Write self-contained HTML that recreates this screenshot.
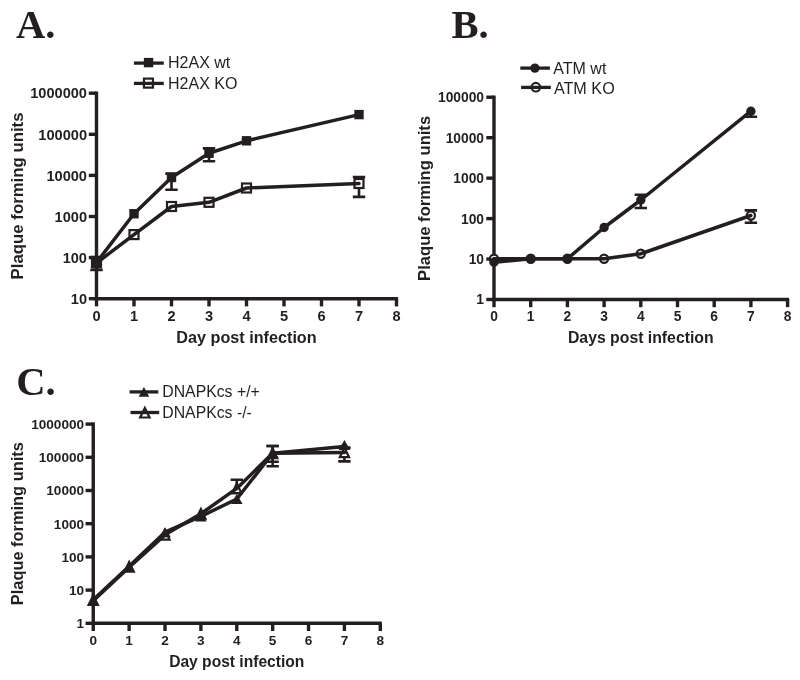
<!DOCTYPE html>
<html lang="en"><head><meta charset="utf-8"><title>Plaque forming units time courses</title>
<style>html,body{margin:0;padding:0;background:#fff}svg{display:block;will-change:transform}</style></head><body>
<svg width="800" height="680" viewBox="0 0 800 680">
<rect width="800" height="680" fill="#fff"/>
<text x="16" y="37.8" font-family="'Liberation Serif', serif" font-weight="700" font-size="40.6" fill="#231f20">A.</text>
<path d="M96.5 91.5V300.4" stroke="#231f20" stroke-width="3.4" fill="none"/>
<path d="M94.8 298.7H398" stroke="#231f20" stroke-width="3.4" fill="none"/>
<path d="M88.8 298.7H96.5" stroke="#231f20" stroke-width="3.4"/>
<text x="87" y="303.93" text-anchor="end" font-family="'Liberation Sans', sans-serif" font-weight="700" font-size="14.6" fill="#231f20">10</text>
<path d="M88.8 257.6H96.5" stroke="#231f20" stroke-width="3.4"/>
<text x="87" y="262.83" text-anchor="end" font-family="'Liberation Sans', sans-serif" font-weight="700" font-size="14.6" fill="#231f20">100</text>
<path d="M88.8 216.5H96.5" stroke="#231f20" stroke-width="3.4"/>
<text x="87" y="221.73" text-anchor="end" font-family="'Liberation Sans', sans-serif" font-weight="700" font-size="14.6" fill="#231f20">1000</text>
<path d="M88.8 175.4H96.5" stroke="#231f20" stroke-width="3.4"/>
<text x="87" y="180.63" text-anchor="end" font-family="'Liberation Sans', sans-serif" font-weight="700" font-size="14.6" fill="#231f20">10000</text>
<path d="M88.8 134.3H96.5" stroke="#231f20" stroke-width="3.4"/>
<text x="87" y="139.53" text-anchor="end" font-family="'Liberation Sans', sans-serif" font-weight="700" font-size="14.6" fill="#231f20">100000</text>
<path d="M88.8 93.2H96.5" stroke="#231f20" stroke-width="3.4"/>
<text x="87" y="98.43" text-anchor="end" font-family="'Liberation Sans', sans-serif" font-weight="700" font-size="14.6" fill="#231f20">1000000</text>
<path d="M96.5 298.7V306.4" stroke="#231f20" stroke-width="3.4"/>
<text x="96.5" y="321.2" text-anchor="middle" font-family="'Liberation Sans', sans-serif" font-weight="700" font-size="14.6" fill="#231f20">0</text>
<path d="M134 298.7V306.4" stroke="#231f20" stroke-width="3.4"/>
<text x="134" y="321.2" text-anchor="middle" font-family="'Liberation Sans', sans-serif" font-weight="700" font-size="14.6" fill="#231f20">1</text>
<path d="M171.5 298.7V306.4" stroke="#231f20" stroke-width="3.4"/>
<text x="171.5" y="321.2" text-anchor="middle" font-family="'Liberation Sans', sans-serif" font-weight="700" font-size="14.6" fill="#231f20">2</text>
<path d="M209 298.7V306.4" stroke="#231f20" stroke-width="3.4"/>
<text x="209" y="321.2" text-anchor="middle" font-family="'Liberation Sans', sans-serif" font-weight="700" font-size="14.6" fill="#231f20">3</text>
<path d="M246.5 298.7V306.4" stroke="#231f20" stroke-width="3.4"/>
<text x="246.5" y="321.2" text-anchor="middle" font-family="'Liberation Sans', sans-serif" font-weight="700" font-size="14.6" fill="#231f20">4</text>
<path d="M284 298.7V306.4" stroke="#231f20" stroke-width="3.4"/>
<text x="284" y="321.2" text-anchor="middle" font-family="'Liberation Sans', sans-serif" font-weight="700" font-size="14.6" fill="#231f20">5</text>
<path d="M321.5 298.7V306.4" stroke="#231f20" stroke-width="3.4"/>
<text x="321.5" y="321.2" text-anchor="middle" font-family="'Liberation Sans', sans-serif" font-weight="700" font-size="14.6" fill="#231f20">6</text>
<path d="M359 298.7V306.4" stroke="#231f20" stroke-width="3.4"/>
<text x="359" y="321.2" text-anchor="middle" font-family="'Liberation Sans', sans-serif" font-weight="700" font-size="14.6" fill="#231f20">7</text>
<path d="M396.5 298.7V306.4" stroke="#231f20" stroke-width="3.4"/>
<text x="396.5" y="321.2" text-anchor="middle" font-family="'Liberation Sans', sans-serif" font-weight="700" font-size="14.6" fill="#231f20">8</text>
<text x="246.5" y="343.3" text-anchor="middle" font-family="'Liberation Sans', sans-serif" font-weight="700" font-size="16.2" fill="#231f20">Day post infection</text>
<text transform="translate(23.3 195.95) rotate(-90)" text-anchor="middle" font-family="'Liberation Sans', sans-serif" font-weight="700" font-size="16.8" fill="#231f20">Plaque forming units</text>
<path d="M96.5 257V270M90.3 257H102.7M90.3 270H102.7" stroke="#231f20" stroke-width="2.6" fill="none"/>
<path d="M359 177V196.9M352.8 177H365.2M352.8 196.9H365.2" stroke="#231f20" stroke-width="2.6" fill="none"/>
<rect x="92" y="258.5" width="9" height="9" fill="#fff" stroke="#231f20" stroke-width="2.2"/>
<rect x="129.5" y="230.1" width="9" height="9" fill="#fff" stroke="#231f20" stroke-width="2.2"/>
<rect x="167" y="202" width="9" height="9" fill="#fff" stroke="#231f20" stroke-width="2.2"/>
<rect x="204.5" y="197.8" width="9" height="9" fill="#fff" stroke="#231f20" stroke-width="2.2"/>
<rect x="242" y="183.5" width="9" height="9" fill="#fff" stroke="#231f20" stroke-width="2.2"/>
<rect x="354.5" y="179" width="9" height="9" fill="#fff" stroke="#231f20" stroke-width="2.2"/>
<path d="M96.5 263L134 234.6L171.5 206.5L209 202.3L246.5 188L359 183.5" stroke="#231f20" stroke-width="3.5" fill="none" stroke-linejoin="round" stroke-linecap="round"/>
<path d="M171.5 173.6V189.8M165.3 173.6H177.7M165.3 189.8H177.7" stroke="#231f20" stroke-width="2.6" fill="none"/>
<path d="M209 148.4V161.3M202.8 148.4H215.2M202.8 161.3H215.2" stroke="#231f20" stroke-width="2.6" fill="none"/>
<rect x="91.8" y="257.8" width="9.4" height="9.4" fill="#231f20"/>
<rect x="129.3" y="209.05" width="9.4" height="9.4" fill="#231f20"/>
<rect x="166.8" y="172.8" width="9.4" height="9.4" fill="#231f20"/>
<rect x="204.3" y="148.55" width="9.4" height="9.4" fill="#231f20"/>
<rect x="241.8" y="136.1" width="9.4" height="9.4" fill="#231f20"/>
<rect x="354.3" y="109.9" width="9.4" height="9.4" fill="#231f20"/>
<path d="M96.5 262.5L134 213.75L171.5 177.5L209 153.25L246.5 140.8L359 114.6" stroke="#231f20" stroke-width="3.5" fill="none" stroke-linejoin="round" stroke-linecap="round"/>
<rect x="143.85" y="57.9" width="9.4" height="9.4" fill="#231f20"/>
<path d="M133.9 63.1H163.8" stroke="#231f20" stroke-width="3.3"/>
<text x="168" y="68.3" font-family="'Liberation Sans', sans-serif" font-size="16" fill="#231f20">H2AX wt</text>
<rect x="143.95" y="78.6" width="9" height="9" fill="#fff" stroke="#231f20" stroke-width="2.2"/>
<path d="M133.9 83.4H163.8" stroke="#231f20" stroke-width="3.3"/>
<text x="168" y="88.6" font-family="'Liberation Sans', sans-serif" font-size="16" fill="#231f20">H2AX KO</text>
<text x="451.5" y="37.6" font-family="'Liberation Serif', serif" font-weight="700" font-size="40.6" fill="#231f20">B.</text>
<path d="M494 95.55V301.2" stroke="#231f20" stroke-width="3.4" fill="none"/>
<path d="M492.3 299.5H789.1" stroke="#231f20" stroke-width="3.4" fill="none"/>
<path d="M486.3 299.5H494" stroke="#231f20" stroke-width="3.4"/>
<text x="484" y="304.44" text-anchor="end" font-family="'Liberation Sans', sans-serif" font-weight="700" font-size="13.8" fill="#231f20">1</text>
<path d="M486.3 259.05H494" stroke="#231f20" stroke-width="3.4"/>
<text x="484" y="263.99" text-anchor="end" font-family="'Liberation Sans', sans-serif" font-weight="700" font-size="13.8" fill="#231f20">10</text>
<path d="M486.3 218.6H494" stroke="#231f20" stroke-width="3.4"/>
<text x="484" y="223.54" text-anchor="end" font-family="'Liberation Sans', sans-serif" font-weight="700" font-size="13.8" fill="#231f20">100</text>
<path d="M486.3 178.15H494" stroke="#231f20" stroke-width="3.4"/>
<text x="484" y="183.09" text-anchor="end" font-family="'Liberation Sans', sans-serif" font-weight="700" font-size="13.8" fill="#231f20">1000</text>
<path d="M486.3 137.7H494" stroke="#231f20" stroke-width="3.4"/>
<text x="484" y="142.64" text-anchor="end" font-family="'Liberation Sans', sans-serif" font-weight="700" font-size="13.8" fill="#231f20">10000</text>
<path d="M486.3 97.25H494" stroke="#231f20" stroke-width="3.4"/>
<text x="484" y="102.19" text-anchor="end" font-family="'Liberation Sans', sans-serif" font-weight="700" font-size="13.8" fill="#231f20">100000</text>
<path d="M494 299.5V307.2" stroke="#231f20" stroke-width="3.4"/>
<text x="494" y="321.2" text-anchor="middle" font-family="'Liberation Sans', sans-serif" font-weight="700" font-size="13.8" fill="#231f20">0</text>
<path d="M530.7 299.5V307.2" stroke="#231f20" stroke-width="3.4"/>
<text x="530.7" y="321.2" text-anchor="middle" font-family="'Liberation Sans', sans-serif" font-weight="700" font-size="13.8" fill="#231f20">1</text>
<path d="M567.4 299.5V307.2" stroke="#231f20" stroke-width="3.4"/>
<text x="567.4" y="321.2" text-anchor="middle" font-family="'Liberation Sans', sans-serif" font-weight="700" font-size="13.8" fill="#231f20">2</text>
<path d="M604.1 299.5V307.2" stroke="#231f20" stroke-width="3.4"/>
<text x="604.1" y="321.2" text-anchor="middle" font-family="'Liberation Sans', sans-serif" font-weight="700" font-size="13.8" fill="#231f20">3</text>
<path d="M640.8 299.5V307.2" stroke="#231f20" stroke-width="3.4"/>
<text x="640.8" y="321.2" text-anchor="middle" font-family="'Liberation Sans', sans-serif" font-weight="700" font-size="13.8" fill="#231f20">4</text>
<path d="M677.5 299.5V307.2" stroke="#231f20" stroke-width="3.4"/>
<text x="677.5" y="321.2" text-anchor="middle" font-family="'Liberation Sans', sans-serif" font-weight="700" font-size="13.8" fill="#231f20">5</text>
<path d="M714.2 299.5V307.2" stroke="#231f20" stroke-width="3.4"/>
<text x="714.2" y="321.2" text-anchor="middle" font-family="'Liberation Sans', sans-serif" font-weight="700" font-size="13.8" fill="#231f20">6</text>
<path d="M750.9 299.5V307.2" stroke="#231f20" stroke-width="3.4"/>
<text x="750.9" y="321.2" text-anchor="middle" font-family="'Liberation Sans', sans-serif" font-weight="700" font-size="13.8" fill="#231f20">7</text>
<path d="M787.6 299.5V307.2" stroke="#231f20" stroke-width="3.4"/>
<text x="787.6" y="321.2" text-anchor="middle" font-family="'Liberation Sans', sans-serif" font-weight="700" font-size="13.8" fill="#231f20">8</text>
<text x="640.8" y="343.3" text-anchor="middle" font-family="'Liberation Sans', sans-serif" font-weight="700" font-size="15.8" fill="#231f20">Days post infection</text>
<text transform="translate(429.8 198.38) rotate(-90)" text-anchor="middle" font-family="'Liberation Sans', sans-serif" font-weight="700" font-size="16.6" fill="#231f20">Plaque forming units</text>
<path d="M750.9 210.4V222.7M744.7 210.4H757.1M744.7 222.7H757.1" stroke="#231f20" stroke-width="2.6" fill="none"/>
<circle cx="494" cy="258.75" r="4.1" fill="#fff" stroke="#231f20" stroke-width="2.2"/>
<circle cx="530.7" cy="258.75" r="4.1" fill="#fff" stroke="#231f20" stroke-width="2.2"/>
<circle cx="567.4" cy="258.75" r="4.1" fill="#fff" stroke="#231f20" stroke-width="2.2"/>
<circle cx="604.1" cy="258.75" r="4.1" fill="#fff" stroke="#231f20" stroke-width="2.2"/>
<circle cx="640.8" cy="253.75" r="4.1" fill="#fff" stroke="#231f20" stroke-width="2.2"/>
<circle cx="750.9" cy="215.5" r="4.1" fill="#fff" stroke="#231f20" stroke-width="2.2"/>
<path d="M494 258.75L530.7 258.75L567.4 258.75L604.1 258.75L640.8 253.75L750.9 215.5" stroke="#231f20" stroke-width="3.5" fill="none" stroke-linejoin="round" stroke-linecap="round"/>
<path d="M640.8 194.7V208M634.6 194.7H647M634.6 208H647" stroke="#231f20" stroke-width="2.6" fill="none"/>
<path d="M750.9 111.2V116.8M744.7 116.8H757.1" stroke="#231f20" stroke-width="2.6" fill="none"/>
<circle cx="494" cy="262.2" r="4.7" fill="#231f20"/>
<circle cx="530.7" cy="258.75" r="4.7" fill="#231f20"/>
<circle cx="567.4" cy="258.75" r="4.7" fill="#231f20"/>
<circle cx="604.1" cy="227.5" r="4.7" fill="#231f20"/>
<circle cx="640.8" cy="200" r="4.7" fill="#231f20"/>
<circle cx="750.9" cy="111.2" r="4.7" fill="#231f20"/>
<path d="M494 262.2L530.7 258.75L567.4 258.75L604.1 227.5L640.8 200L750.9 111.2" stroke="#231f20" stroke-width="3.5" fill="none" stroke-linejoin="round" stroke-linecap="round"/>
<circle cx="534.9" cy="68.1" r="4.65" fill="#231f20"/>
<path d="M520.3 68.1H549.9" stroke="#231f20" stroke-width="3.3"/>
<text x="553.3" y="74.3" font-family="'Liberation Sans', sans-serif" font-size="16" fill="#231f20">ATM wt</text>
<circle cx="535.85" cy="87.2" r="4.3" fill="#fff" stroke="#231f20" stroke-width="2.2"/>
<path d="M521.1 87.4H550.8" stroke="#231f20" stroke-width="3.3"/>
<text x="553.9" y="93.5" font-family="'Liberation Sans', sans-serif" font-size="16.2" fill="#231f20">ATM KO</text>
<text x="16.3" y="394.7" font-family="'Liberation Serif', serif" font-weight="700" font-size="40.6" fill="#231f20">C.</text>
<path d="M93.25 422.4V625" stroke="#231f20" stroke-width="3.4" fill="none"/>
<path d="M91.55 623.3H381.79" stroke="#231f20" stroke-width="3.4" fill="none"/>
<path d="M85.55 623.3H93.25" stroke="#231f20" stroke-width="3.4"/>
<text x="84.1" y="628.17" text-anchor="end" font-family="'Liberation Sans', sans-serif" font-weight="700" font-size="13.6" fill="#231f20">1</text>
<path d="M85.55 590.1H93.25" stroke="#231f20" stroke-width="3.4"/>
<text x="84.1" y="594.97" text-anchor="end" font-family="'Liberation Sans', sans-serif" font-weight="700" font-size="13.6" fill="#231f20">10</text>
<path d="M85.55 556.9H93.25" stroke="#231f20" stroke-width="3.4"/>
<text x="84.1" y="561.77" text-anchor="end" font-family="'Liberation Sans', sans-serif" font-weight="700" font-size="13.6" fill="#231f20">100</text>
<path d="M85.55 523.7H93.25" stroke="#231f20" stroke-width="3.4"/>
<text x="84.1" y="528.57" text-anchor="end" font-family="'Liberation Sans', sans-serif" font-weight="700" font-size="13.6" fill="#231f20">1000</text>
<path d="M85.55 490.5H93.25" stroke="#231f20" stroke-width="3.4"/>
<text x="84.1" y="495.37" text-anchor="end" font-family="'Liberation Sans', sans-serif" font-weight="700" font-size="13.6" fill="#231f20">10000</text>
<path d="M85.55 457.3H93.25" stroke="#231f20" stroke-width="3.4"/>
<text x="84.1" y="462.17" text-anchor="end" font-family="'Liberation Sans', sans-serif" font-weight="700" font-size="13.6" fill="#231f20">100000</text>
<path d="M85.55 424.1H93.25" stroke="#231f20" stroke-width="3.4"/>
<text x="84.1" y="428.97" text-anchor="end" font-family="'Liberation Sans', sans-serif" font-weight="700" font-size="13.6" fill="#231f20">1000000</text>
<path d="M93.25 623.3V631" stroke="#231f20" stroke-width="3.4"/>
<text x="93.25" y="644.5" text-anchor="middle" font-family="'Liberation Sans', sans-serif" font-weight="700" font-size="13.6" fill="#231f20">0</text>
<path d="M129.13 623.3V631" stroke="#231f20" stroke-width="3.4"/>
<text x="129.13" y="644.5" text-anchor="middle" font-family="'Liberation Sans', sans-serif" font-weight="700" font-size="13.6" fill="#231f20">1</text>
<path d="M165.01 623.3V631" stroke="#231f20" stroke-width="3.4"/>
<text x="165.01" y="644.5" text-anchor="middle" font-family="'Liberation Sans', sans-serif" font-weight="700" font-size="13.6" fill="#231f20">2</text>
<path d="M200.89 623.3V631" stroke="#231f20" stroke-width="3.4"/>
<text x="200.89" y="644.5" text-anchor="middle" font-family="'Liberation Sans', sans-serif" font-weight="700" font-size="13.6" fill="#231f20">3</text>
<path d="M236.77 623.3V631" stroke="#231f20" stroke-width="3.4"/>
<text x="236.77" y="644.5" text-anchor="middle" font-family="'Liberation Sans', sans-serif" font-weight="700" font-size="13.6" fill="#231f20">4</text>
<path d="M272.65 623.3V631" stroke="#231f20" stroke-width="3.4"/>
<text x="272.65" y="644.5" text-anchor="middle" font-family="'Liberation Sans', sans-serif" font-weight="700" font-size="13.6" fill="#231f20">5</text>
<path d="M308.53 623.3V631" stroke="#231f20" stroke-width="3.4"/>
<text x="308.53" y="644.5" text-anchor="middle" font-family="'Liberation Sans', sans-serif" font-weight="700" font-size="13.6" fill="#231f20">6</text>
<path d="M344.41 623.3V631" stroke="#231f20" stroke-width="3.4"/>
<text x="344.41" y="644.5" text-anchor="middle" font-family="'Liberation Sans', sans-serif" font-weight="700" font-size="13.6" fill="#231f20">7</text>
<path d="M380.29 623.3V631" stroke="#231f20" stroke-width="3.4"/>
<text x="380.29" y="644.5" text-anchor="middle" font-family="'Liberation Sans', sans-serif" font-weight="700" font-size="13.6" fill="#231f20">8</text>
<text x="236.77" y="667.2" text-anchor="middle" font-family="'Liberation Sans', sans-serif" font-weight="700" font-size="15.6" fill="#231f20">Day post infection</text>
<text transform="translate(22.7 523.7) rotate(-90)" text-anchor="middle" font-family="'Liberation Sans', sans-serif" font-weight="700" font-size="16.4" fill="#231f20">Plaque forming units</text>
<path d="M236.77 479.8V493M230.57 479.8H242.97M230.57 493H242.97" stroke="#231f20" stroke-width="2.6" fill="none"/>
<path d="M272.65 446V466.25M266.45 446H278.85M266.45 466.25H278.85" stroke="#231f20" stroke-width="2.6" fill="none"/>
<path d="M344.41 447.6V461.4M338.21 447.6H350.61M338.21 461.4H350.61" stroke="#231f20" stroke-width="2.6" fill="none"/>
<path d="M93.25 595.4L97.85 605H88.65Z" fill="#fff" stroke="#231f20" stroke-width="2.2" stroke-linejoin="miter" stroke-miterlimit="6"/>
<path d="M129.13 561.95L133.73 571.55H124.53Z" fill="#fff" stroke="#231f20" stroke-width="2.2" stroke-linejoin="miter" stroke-miterlimit="6"/>
<path d="M165.01 530.05L169.61 539.65H160.41Z" fill="#fff" stroke="#231f20" stroke-width="2.2" stroke-linejoin="miter" stroke-miterlimit="6"/>
<path d="M200.89 508.95L205.49 518.55H196.29Z" fill="#fff" stroke="#231f20" stroke-width="2.2" stroke-linejoin="miter" stroke-miterlimit="6"/>
<path d="M236.77 483.6L241.37 493.2H232.17Z" fill="#fff" stroke="#231f20" stroke-width="2.2" stroke-linejoin="miter" stroke-miterlimit="6"/>
<path d="M272.65 448.5L277.25 458.1H268.05Z" fill="#fff" stroke="#231f20" stroke-width="2.2" stroke-linejoin="miter" stroke-miterlimit="6"/>
<path d="M344.41 447.6L349.01 457.2H339.81Z" fill="#fff" stroke="#231f20" stroke-width="2.2" stroke-linejoin="miter" stroke-miterlimit="6"/>
<path d="M93.25 600.7L129.13 567.3L165.01 534.85L200.89 513.75L236.77 488.4L272.65 453.3L344.41 452.4" stroke="#231f20" stroke-width="3.5" fill="none" stroke-linejoin="round" stroke-linecap="round"/>
<path d="M272.65 446V461.75M266.45 446H278.85M266.45 461.75H278.85" stroke="#231f20" stroke-width="2.6" fill="none"/>
<path d="M93.25 595.2L99.05 605.2H87.45Z" fill="#231f20"/>
<path d="M129.13 561.75L134.93 571.75H123.33Z" fill="#231f20"/>
<path d="M165.01 527.2L170.81 537.2H159.21Z" fill="#231f20"/>
<path d="M200.89 511.4L206.69 521.4H195.09Z" fill="#231f20"/>
<path d="M236.77 494L242.57 504H230.97Z" fill="#231f20"/>
<path d="M272.65 448.3L278.45 458.3H266.85Z" fill="#231f20"/>
<path d="M344.41 440.1L350.21 450.1H338.61Z" fill="#231f20"/>
<path d="M93.25 599.7L129.13 566.25L165.01 532.2L200.89 516.4L236.77 499L272.65 453.3L344.41 446.6" stroke="#231f20" stroke-width="3.5" fill="none" stroke-linejoin="round" stroke-linecap="round"/>
<path d="M143.95 387.1L149.25 396.7H138.65Z" fill="#231f20"/>
<path d="M129.6 391.9H158.3" stroke="#231f20" stroke-width="3.3"/>
<text x="162.3" y="397.3" font-family="'Liberation Sans', sans-serif" font-size="15.8" fill="#231f20">DNAPKcs +/+</text>
<path d="M144.85 407.9L149.55 417.5H140.15Z" fill="#fff" stroke="#231f20" stroke-width="2.2" stroke-linejoin="miter" stroke-miterlimit="6"/>
<path d="M130.5 412.5H159.2" stroke="#231f20" stroke-width="3.3"/>
<text x="162.3" y="418.4" font-family="'Liberation Sans', sans-serif" font-size="15.8" fill="#231f20">DNAPKcs -/-</text>
</svg>
</body></html>
